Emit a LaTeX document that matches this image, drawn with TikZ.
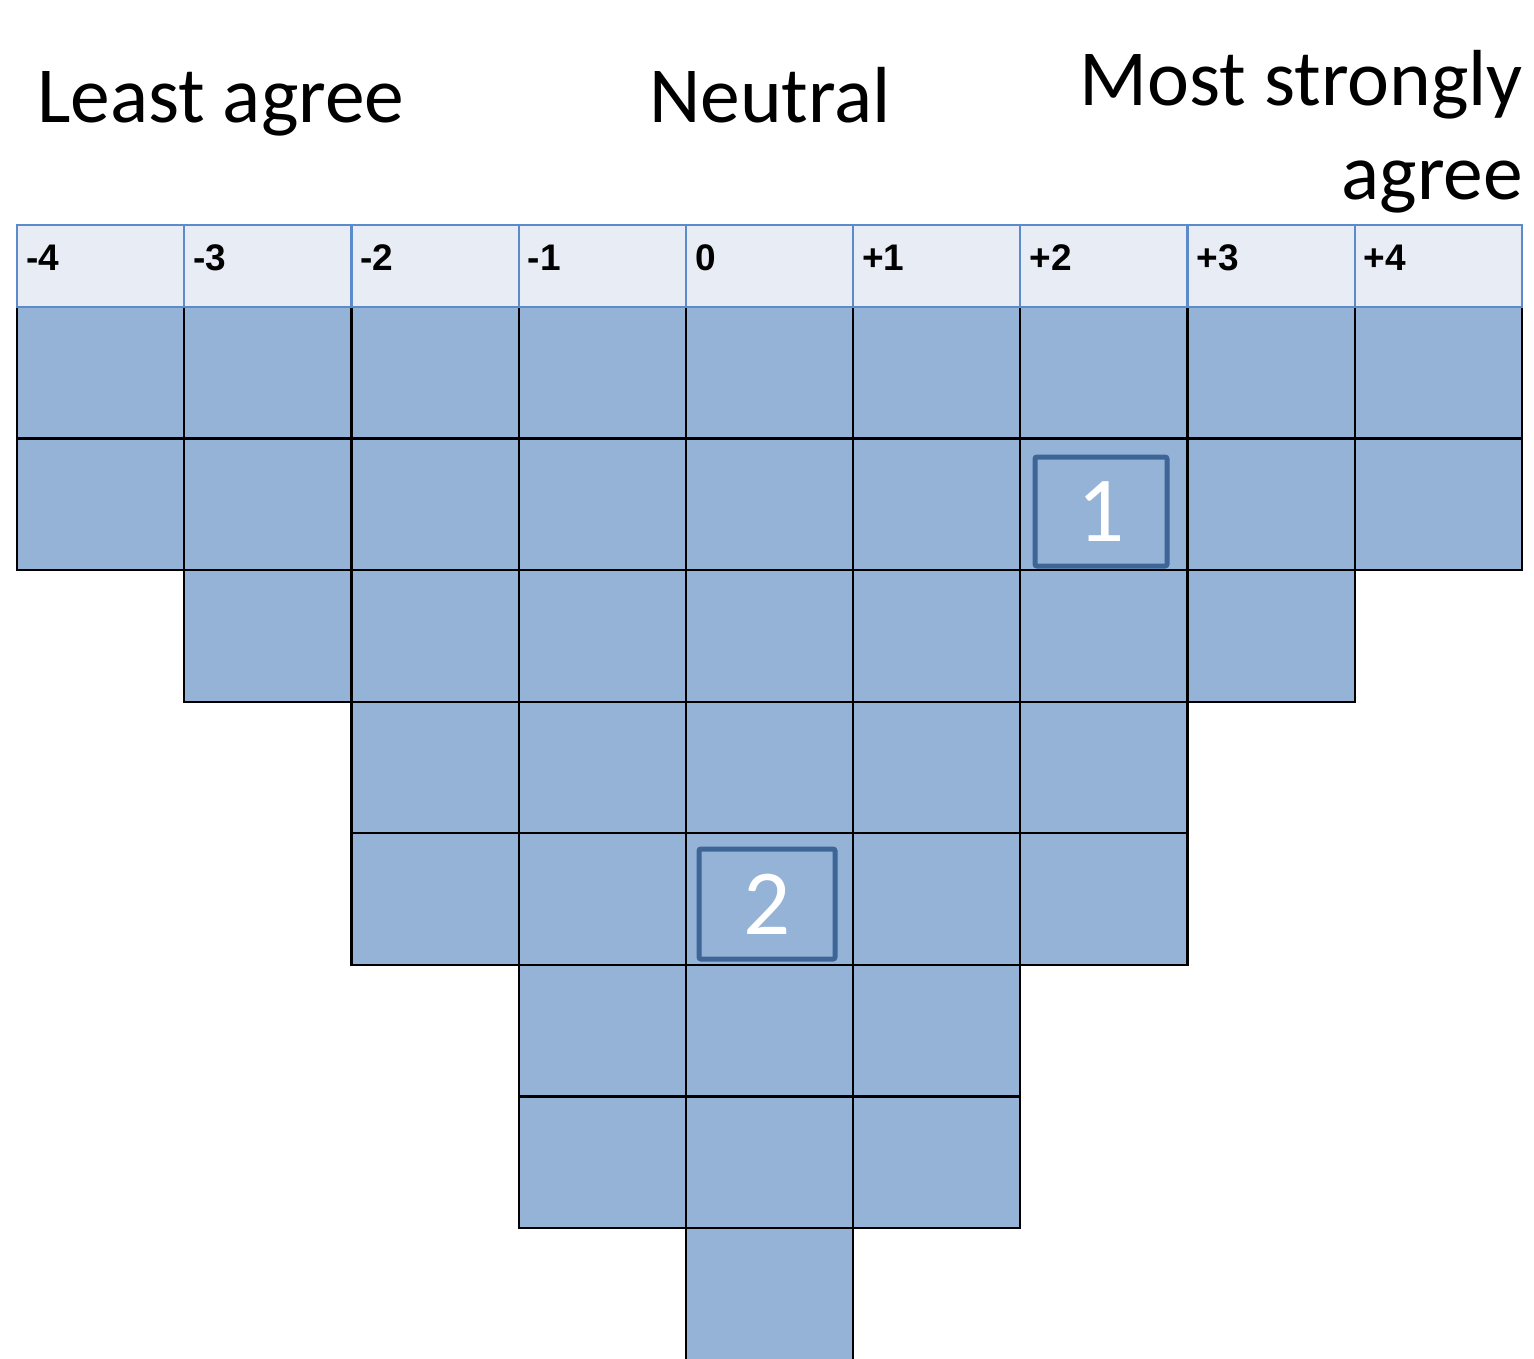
\documentclass[tikz,border=0pt]{standalone}
\usepackage{fontspec}
\setmainfont{Carlito}
\newfontfamily\hdrfont{Liberation Sans}
\definecolor{cellblue}{HTML}{95B3D7}
\definecolor{hdrfill}{HTML}{E8EDF5}
\definecolor{hdrline}{HTML}{5B8BC9}
\definecolor{boxline}{HTML}{3D6596}
\tikzset{
  cellbox/.style={fill=cellblue, draw=black, line width=2.2pt},
  hdrbox/.style={fill=hdrfill, draw=hdrline, line width=2.2pt},
  hdrlabel/.style={anchor=base west, inner sep=0pt, font=\hdrfont\bfseries\fontsize{37}{40}\selectfont},
  bigtext/.style={inner sep=0pt, font=\fontsize{79.5}{95}\selectfont},
  numbox/.style={draw=boxline, line width=5pt, rounded corners=2pt, text=white, inner sep=0pt, font=\fontsize{93}{100}\selectfont}
}
\begin{document}
\begin{tikzpicture}[x=1pt,y=-1pt]
\useasboundingbox (0,0) rectangle (1534,1358);
\fill[white] (0,0) rectangle (1534,1358);
% grid cells
\foreach \n [count=\i from 0] in {2,3,5,7,8,7,5,3,2} {
  \pgfmathsetmacro\xa{17+167.222*\i}
  \foreach \r in {1,...,\n} {
    \pgfmathsetmacro\ya{307+131.57*(\r-1)}
    \ifnum\r=8
      \draw[cellbox] (\xa,\ya) rectangle ++(167.222,160);
    \else
      \draw[cellbox] (\xa,\ya) rectangle ++(167.222,131.57);
    \fi
  }
}
% header row
\foreach \lab [count=\i from 0] in {-4,-3,-2,-1,0,+1,+2,+3,+4} {
  \pgfmathsetmacro\xa{17+167.222*\i}
  \draw[hdrbox] (\xa,225) rectangle ++(167.222,82);
  \node[hdrlabel] (h\i) at (\xa+9,270) {\lab};
}
% titles
\node[bigtext, anchor=base west] (least) at (37,122) {Least agree};
\node[bigtext, anchor=base west] (neutral) at (649,122) {Neutral};
\node[bigtext, anchor=base east] (most) at (1523,105) {Most strongly};
\node[bigtext, anchor=base east] (agree) at (1523,199) {agree};
% numbered boxes
\node[numbox, minimum width=132pt, minimum height=109pt] (b1) at (1101,511.5) {1};
\node[numbox, minimum width=136pt, minimum height=110pt] (b2) at (767,904) {2};
\end{tikzpicture}
\end{document}
